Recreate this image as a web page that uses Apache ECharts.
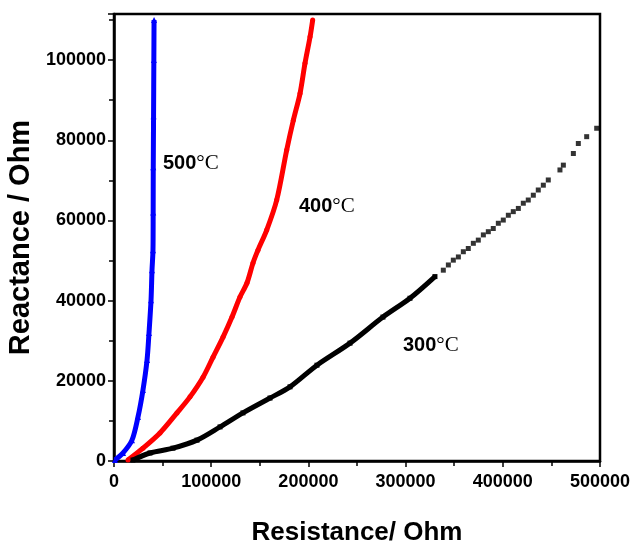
<!DOCTYPE html>
<html>
<head>
<meta charset="utf-8">
<script src="https://cdn.jsdelivr.net/npm/echarts@6/dist/echarts.min.js"></script>
<style>
  html, body { margin: 0; padding: 0; background: #fff; }
  #chart { width: 633px; height: 548px; }
</style>
</head>
<body>
<div id="chart"></div>
<script>
// 阻抗数据 (Resistance, Reactance)
var data500 = [[1000,250],[9300,2000],[18500,5200],[24700,11000],[29800,17700],[34000,25200],
    [36000,31900],[38100,40100],[39100,47600],[40100,52600],[40300,62000],[40400,73300],
    [40700,86000],[41000,100000],[41200,110000]];
var data400 = [[14400,250],[29800,3200],[47300,7000],[64800,12000],[78200,16000],[91600,20900],
    [101900,25900],[112200,30900],[121400,35900],[129600,40900],[136800,44400],[143000,49400],
    [148100,52600],[157100,57600],[167400,65100],[177700,77600],[184500,85000],[191400,91700],
    [196500,99200],[201700,105800],[204400,110000]];
var data300 = [[19500,250],[37000,2000],[60700,3200],[85400,5200],[109100,8500],[132700,12000],
    [160500,15700],[181100,18500],[208800,23900],[242800,29400],[276700,35900],[304500,40600],
    [330200,46000]];
var data300Sparse = [[338800,47600],[344000,48900],[349100,50100],[354300,50900],[359400,52200],
    [364500,53000],[369700,54300],[374800,55100],[380000,56400],[385100,57200],[390200,58000],
    [395400,59300],[400500,60100],[405700,61300],[410800,62200],[416000,63000],[421100,64300],
    [426200,65100],[431400,66300],[436500,67600],[441700,68800],[446800,70100],[458800,72600],
    [462300,73800],[472600,76700],[477700,79200],[486300,80900],[496600,83000]];

var xTicks = [0, 100000, 200000, 300000, 400000, 500000];
var yTicks = [0, 20000, 40000, 60000, 80000, 100000];

var chart = echarts.init(document.getElementById('chart'));

var labelFont = {color: '#000', fontFamily: 'Liberation Sans, Arial', fontWeight: 'bold', fontSize: 18};

function tempLabel(txt) {
    return {text: '{a|' + txt + '}{b|°C}', rich: {
        a: {fontFamily: 'Liberation Sans', fontWeight: 'bold', fontSize: 20, fill: '#000'},
        b: {fontFamily: 'Liberation Serif', fontSize: 21, fill: '#000'}}};
}

var option = {
    animation: false,
    grid: {left: 114, right: 33, top: 14, bottom: 87, outerBoundsMode: 'none', containLabel: false,
        show: true, borderColor: '#000', borderWidth: 2.5},
    xAxis: {
        type: 'value', min: 0, max: 500000, interval: 100000,
        name: 'Resistance/ Ohm', nameLocation: 'middle', nameGap: 59,
        nameTextStyle: {color: '#000', fontFamily: 'Liberation Sans, Arial', fontWeight: 'bold', fontSize: 26},
        axisLine: {lineStyle: {color: '#000', width: 2.5}},
        axisTick: {inside: false, length: 6, lineStyle: {color: '#000', width: 1.5}},
        minorTick: {show: true, splitNumber: 2, length: 5, lineStyle: {color: '#000', width: 1.5}},
        splitLine: {show: false},
        axisLabel: Object.assign({margin: 12, formatter: function (v) {
            return xTicks.indexOf(v) >= 0 ? String(v) : '';
        }}, labelFont)
    },
    yAxis: {
        type: 'value', min: 0, max: 111500, interval: 20000,
        name: 'Reactance / Ohm', nameLocation: 'middle', nameGap: 75,
        nameTextStyle: {color: '#000', fontFamily: 'Liberation Sans, Arial', fontWeight: 'bold', fontSize: 29},
        axisLine: {lineStyle: {color: '#000', width: 2.5}},
        axisTick: {inside: false, length: 6, lineStyle: {color: '#000', width: 1.5}},
        minorTick: {show: true, splitNumber: 2, length: 5, lineStyle: {color: '#000', width: 1.5}},
        splitLine: {show: false},
        axisLabel: Object.assign({margin: 8, showMaxLabel: false, formatter: function (v) {
            return yTicks.indexOf(v) >= 0 ? String(v) : '';
        }}, labelFont)
    },
    series: [
        {name: '500', type: 'line', data: data500, smooth: 0.3, symbol: 'triangle', symbolSize: 6,
            itemStyle: {color: '#0000ff'}, lineStyle: {color: '#0000ff', width: 5}},
        {name: '400', type: 'line', data: data400, smooth: 0.3, symbol: 'circle', symbolSize: 5,
            itemStyle: {color: '#ff0000'}, lineStyle: {color: '#ff0000', width: 5}},
        {name: '300', type: 'line', data: data300, smooth: 0.3, symbol: 'rect', symbolSize: 5,
            itemStyle: {color: '#000'}, lineStyle: {color: '#000', width: 5}},
        {name: '300b', type: 'scatter', data: data300Sparse, symbol: 'rect', symbolSize: 5,
            itemStyle: {color: '#000'}}
    ],
    graphic: [
        {type: 'text', left: 163, top: 153, style: tempLabel('500')},
        {type: 'text', left: 299, top: 196, style: tempLabel('400')},
        {type: 'text', left: 403, top: 335, style: tempLabel('300')}
    ]
};
chart.setOption(option);
</script>
</body>
</html>
